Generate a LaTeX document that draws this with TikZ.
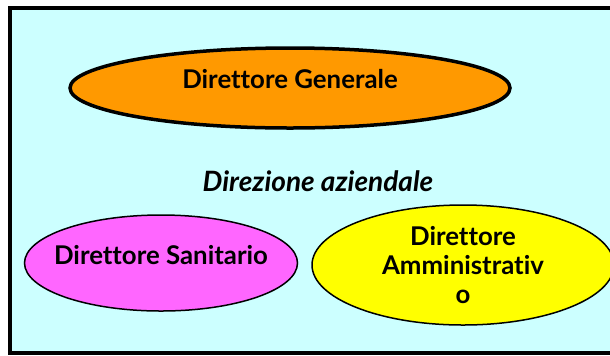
\documentclass[tikz,border=0pt]{standalone}
\usepackage{fontspec}
\setmainfont{Lato}[Ligatures={NoCommon,NoDiscretionary}]
\usetikzlibrary{shapes.geometric}
\definecolor{bgcyan}{HTML}{CCFFFF}
\definecolor{orangefill}{HTML}{FF9900}
\definecolor{magentafill}{HTML}{FF66FF}
\definecolor{yellowfill}{HTML}{FFFF00}
\tikzset{
  oval/.style={ellipse, draw=black, inner sep=0pt},
  lbl/.style={inner sep=0pt, align=center, font=\fontsize{12.9}{14.4}\selectfont\bfseries},
}
\begin{document}
\begin{tikzpicture}[x=0.5pt,y=-0.5pt]
\useasboundingbox (0,0) rectangle (610,355);
\clip (0,0) rectangle (610,355);
\draw[fill=bgcyan, line width=2pt] (10,8) rectangle (640,353);
\node[oval, fill=orangefill, line width=1.75pt, minimum width=440*0.5pt, minimum height=80*0.5pt] (dg) at (290,88) {};
\node[lbl] (dgt) at (290,79) {Direttore Generale};
\node[lbl, font=\fontsize{14}{15}\selectfont\bfseries\itshape] (dir) at (318,181) {Direzione aziendale};
\node[oval, fill=magentafill, line width=0.75pt, minimum width=273*0.5pt, minimum height=96*0.5pt] (ds) at (161,263) {};
\node[lbl] (dst) at (161,255) {Direttore Sanitario};
\node[oval, fill=yellowfill, line width=0.75pt, minimum width=302*0.5pt, minimum height=120*0.5pt] (da) at (463,265) {};
\node[lbl] (dat) at (463,265) {Direttore\\Amministrativ\\o};
\end{tikzpicture}
\end{document}
